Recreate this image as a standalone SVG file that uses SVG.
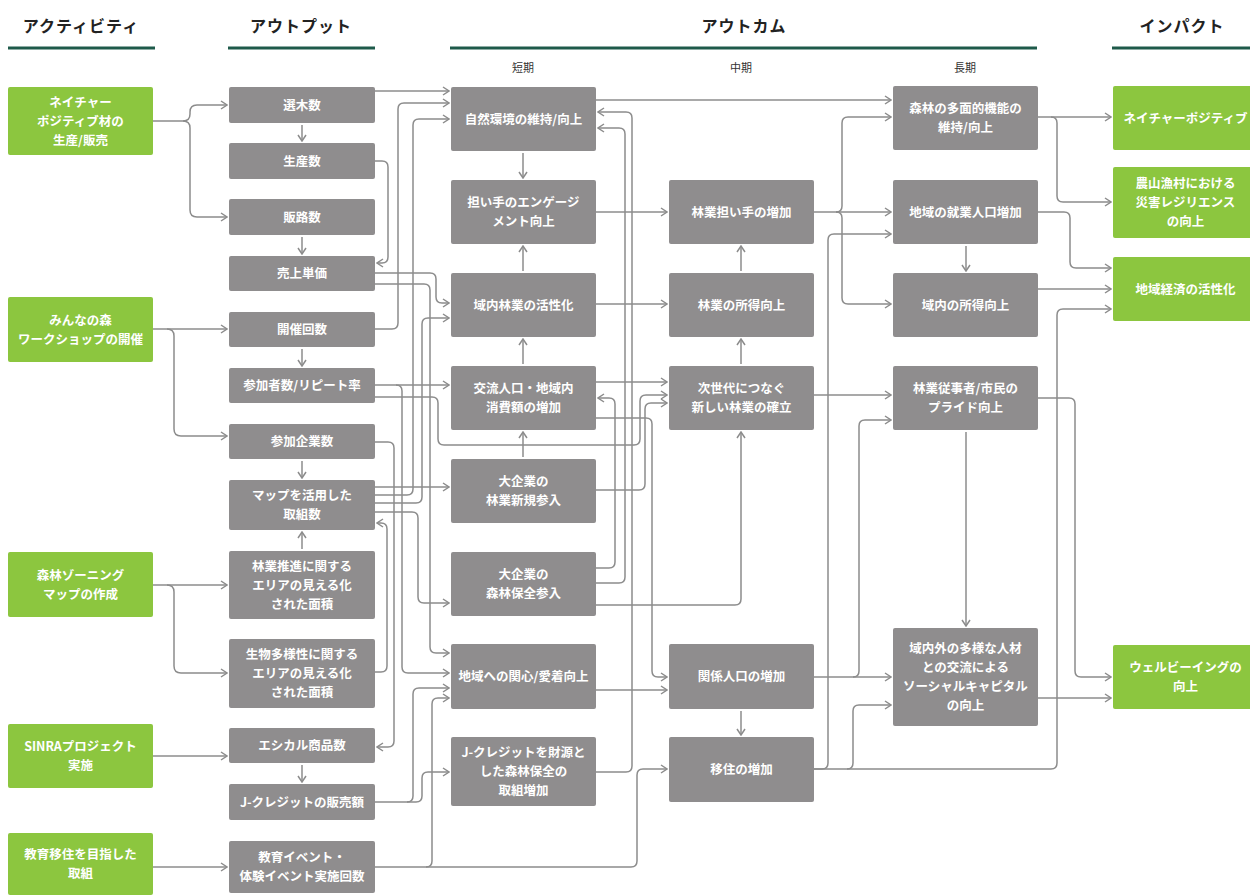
<svg xmlns="http://www.w3.org/2000/svg" width="1250" height="895" viewBox="0 0 1250 895">
<style>
.act{fill:#8cc63f}
.box{fill:#8f8d8e}
.t{font-family:"Noto Sans CJK JP","Noto Sans",sans-serif;font-size:12.5px;font-weight:700;fill:#fff;text-anchor:middle}
.h{font-family:"Noto Sans CJK JP","Noto Sans",sans-serif;font-size:16px;font-weight:700;fill:#222;text-anchor:middle;letter-spacing:1px}
.sh{font-family:"Noto Sans CJK JP","Noto Sans",sans-serif;font-size:11px;fill:#333;text-anchor:middle}
.ul{stroke:#1e5a4a;stroke-width:3}
.c{fill:none;stroke:#8c8c8c;stroke-width:1.5;marker-end:url(#ah)}
.n{fill:none;stroke:#8c8c8c;stroke-width:1.5}
</style>
<defs>
<marker id="ah" viewBox="0 0 10 10" refX="9" refY="5" markerWidth="10" markerHeight="10" markerUnits="userSpaceOnUse" orient="auto">
<path d="M3,1 L9,5 L3,9" fill="none" stroke="#8c8c8c" stroke-width="1.5"/>
</marker>
</defs>
<rect width="1250" height="895" fill="#fff"/>
<g id="header">
<text class="h" x="81" y="32">アクティビティ</text>
<line class="ul" x1="8" y1="48" x2="155" y2="48"/>
<text class="h" x="301" y="32">アウトプット</text>
<line class="ul" x1="228" y1="48" x2="375" y2="48"/>
<text class="h" x="744" y="32">アウトカム</text>
<line class="ul" x1="450" y1="48" x2="1037" y2="48"/>
<text class="h" x="1182" y="32">インパクト</text>
<line class="ul" x1="1112" y1="48" x2="1250" y2="48"/>
<text class="sh" x="523" y="72">短期</text>
<text class="sh" x="741" y="72">中期</text>
<text class="sh" x="965" y="72">長期</text>
</g>
<g id="connectors">
<path class="c" d="M153,121 H183 Q190,121 190,114 V112 Q190,105 197,105 H227"/>
<path class="c" d="M183,121 Q190,121 190,128 V210 Q190,217 197,217 H227"/>
<path class="c" d="M153,329 H227"/>
<path class="c" d="M167,329 Q174,329 174,336 V429 Q174,436 181,436 H227"/>
<path class="c" d="M153,585 H227"/>
<path class="c" d="M167,585 Q174,585 174,592 V666 Q174,673 181,673 H227"/>
<path class="c" d="M153,756 H227"/>
<path class="c" d="M153,867 H227"/>
<path class="c" d="M302,125 V141"/>
<path class="c" d="M302,237 V254"/>
<path class="c" d="M302,349 V366"/>
<path class="c" d="M302,461 V478"/>
<path class="c" d="M302,549 V532"/>
<path class="c" d="M302,765 V782"/>
<path class="c" d="M375,91 H449"/>
<path class="c" d="M375,161 H382 Q388,161 388,167 V257 Q388,263 382,263 H377"/>
<path class="c" d="M375,329 H392 Q398,329 398,323 V109 Q398,103 404,103 H449"/>
<path class="c" d="M375,495 H407 Q413,495 413,489 V125 Q413,119 419,119 H449"/>
<path class="c" d="M375,273 H430 Q436,273 436,279 V297 Q436,303 442,303 H449"/>
<path class="c" d="M375,284 H424 Q430,284 430,290 V647 Q430,653 436,653 H449"/>
<path class="c" d="M375,503 H416 Q422,503 422,497 V324 Q422,318 428,318 H449"/>
<path class="c" d="M375,385 H449"/>
<path class="c" d="M396,385 Q402,385 402,391 V667 Q402,673 408,673 H449"/>
<path class="c" d="M375,397 H432 Q438,397 438,403 V439 Q438,445 444,445 H634 Q640,445 640,439 V401 Q640,395 646,395 H667"/>
<path class="c" d="M375,442 H388 Q394,442 394,448 V741 Q394,747 388,747 H377"/>
<path class="c" d="M375,672 H381 Q387,672 387,666 V529 Q387,523 381,523 H377"/>
<path class="c" d="M375,487 H449"/>
<path class="c" d="M375,512 H412 Q418,512 418,518 V597 Q418,603 424,603 H449"/>
<path class="c" d="M375,802 H407 Q413,802 413,796 V694 Q413,688 419,688 H449"/>
<path class="c" d="M407,802 H416 Q422,802 422,796 V778 Q422,772 428,772 H449"/>
<path class="c" d="M375,867 H426 Q432,867 432,861 V704 Q432,698 438,698 H449"/>
<path class="c" d="M426,867 H631 Q637,867 637,861 V775 Q637,769 643,769 H667"/>
<path class="c" d="M523,153 V178"/>
<path class="c" d="M523,271 V246"/>
<path class="c" d="M523,364 V339"/>
<path class="c" d="M523,457 V432"/>
<path class="c" d="M596,100 H891"/>
<path class="c" d="M596,212 H667"/>
<path class="c" d="M596,304 H667"/>
<path class="c" d="M596,382 H667"/>
<path class="c" d="M596,418 H646 Q652,418 652,424 V671 Q652,677 658,677 H667"/>
<path class="c" d="M596,490 H639 Q645,490 645,484 V409 Q645,403 651,403 H667"/>
<path class="c" d="M596,568 H609 Q615,568 615,562 V404 Q615,398 609,398 H598"/>
<path class="c" d="M596,583 H619 Q625,583 625,577 V134 Q625,128 619,128 H598"/>
<path class="c" d="M596,605 H735 Q741,605 741,599 V432"/>
<path class="c" d="M596,772 H626 Q632,772 632,766 V118 Q632,112 626,112 H598"/>
<path class="c" d="M596,690 H667"/>
<path class="c" d="M741,271 V246"/>
<path class="c" d="M741,364 V339"/>
<path class="c" d="M741,711 V735"/>
<path class="c" d="M814,212 H891"/>
<path class="c" d="M836,212 Q842,212 842,206 V123 Q842,117 848,117 H891"/>
<path class="c" d="M836,212 Q842,212 842,218 V298 Q842,304 848,304 H891"/>
<path class="c" d="M814,395 H891"/>
<path class="c" d="M814,677 H891"/>
<path class="c" d="M853,677 Q859,677 859,671 V426 Q859,420 865,420 H891"/>
<path class="c" d="M814,769 H822 Q828,769 828,763 V240 Q828,234 834,234 H891"/>
<path class="c" d="M847,769 Q853,769 853,763 V711 Q853,705 859,705 H891"/>
<path class="c" d="M814,769 H1051 Q1057,769 1057,763 V315 Q1057,309 1063,309 H1111"/>
<path class="c" d="M966,246 V271"/>
<path class="c" d="M966,432 V626"/>
<path class="c" d="M1038,117 H1111"/>
<path class="c" d="M1051,117 Q1057,117 1057,123 V196 Q1057,202 1063,202 H1111"/>
<path class="c" d="M1038,212 H1064 Q1070,212 1070,218 V262 Q1070,268 1076,268 H1111"/>
<path class="c" d="M1038,289 H1111"/>
<path class="c" d="M1038,398 H1069 Q1075,398 1075,404 V671 Q1075,677 1081,677 H1111"/>
<path class="c" d="M1038,698 H1111"/>
</g>
<g id="A1"><rect class="act" x="8" y="87" width="145" height="68" rx="2"/><text class="t" x="80.5" y="106.5">ネイチャー</text><text class="t" x="80.5" y="125.5">ポジティブ材の</text><text class="t" x="80.5" y="144.5">生産/販売</text></g>
<g id="A2"><rect class="act" x="8" y="297" width="145" height="65" rx="2"/><text class="t" x="80.5" y="324.5">みんなの森</text><text class="t" x="80.5" y="343.5">ワークショップの開催</text></g>
<g id="A3"><rect class="act" x="8" y="552" width="145" height="65" rx="2"/><text class="t" x="80.5" y="579.5">森林ゾーニング</text><text class="t" x="80.5" y="598.5">マップの作成</text></g>
<g id="A4"><rect class="act" x="8" y="724" width="145" height="64" rx="2"/><text class="t" x="80.5" y="751">SINRAプロジェクト</text><text class="t" x="80.5" y="770">実施</text></g>
<g id="A5"><rect class="act" x="8" y="833" width="145" height="62" rx="2"/><text class="t" x="80.5" y="859">教育移住を目指した</text><text class="t" x="80.5" y="878">取組</text></g>
<g id="O1"><rect class="box" x="229" y="87" width="146" height="36" rx="2"/><text class="t" x="302" y="109.5">選木数</text></g>
<g id="O2"><rect class="box" x="229" y="143" width="146" height="36" rx="2"/><text class="t" x="302" y="165.5">生産数</text></g>
<g id="O3"><rect class="box" x="229" y="199" width="146" height="36" rx="2"/><text class="t" x="302" y="221.5">販路数</text></g>
<g id="O4"><rect class="box" x="229" y="256" width="146" height="35" rx="2"/><text class="t" x="302" y="278">売上単価</text></g>
<g id="O5"><rect class="box" x="229" y="312" width="146" height="35" rx="2"/><text class="t" x="302" y="334">開催回数</text></g>
<g id="O6"><rect class="box" x="229" y="368" width="146" height="35" rx="2"/><text class="t" x="302" y="390">参加者数/リピート率</text></g>
<g id="O7"><rect class="box" x="229" y="424" width="146" height="35" rx="2"/><text class="t" x="302" y="446">参加企業数</text></g>
<g id="O8"><rect class="box" x="229" y="480" width="146" height="50" rx="2"/><text class="t" x="302" y="500">マップを活用した</text><text class="t" x="302" y="519">取組数</text></g>
<g id="O9"><rect class="box" x="229" y="551" width="146" height="68" rx="2"/><text class="t" x="302" y="570.5">林業推進に関する</text><text class="t" x="302" y="589.5">エリアの見える化</text><text class="t" x="302" y="608.5">された面積</text></g>
<g id="O10"><rect class="box" x="229" y="639" width="146" height="69" rx="2"/><text class="t" x="302" y="659">生物多様性に関する</text><text class="t" x="302" y="678">エリアの見える化</text><text class="t" x="302" y="697">された面積</text></g>
<g id="O11"><rect class="box" x="229" y="728" width="146" height="35" rx="2"/><text class="t" x="302" y="750">エシカル商品数</text></g>
<g id="O12"><rect class="box" x="229" y="784" width="146" height="36" rx="2"/><text class="t" x="302" y="806.5">J-クレジットの販売額</text></g>
<g id="O13"><rect class="box" x="229" y="841" width="146" height="52" rx="2"/><text class="t" x="302" y="862">教育イベント・</text><text class="t" x="302" y="881">体験イベント実施回数</text></g>
<g id="S1"><rect class="box" x="451" y="87" width="145" height="64" rx="2"/><text class="t" x="523.5" y="123.5">自然環境の維持/向上</text></g>
<g id="S2"><rect class="box" x="451" y="180" width="145" height="64" rx="2"/><text class="t" x="523.5" y="207">担い手のエンゲージ</text><text class="t" x="523.5" y="226">メント向上</text></g>
<g id="S3"><rect class="box" x="451" y="273" width="145" height="64" rx="2"/><text class="t" x="523.5" y="309.5">域内林業の活性化</text></g>
<g id="S4"><rect class="box" x="451" y="366" width="145" height="64" rx="2"/><text class="t" x="523.5" y="393">交流人口・地域内</text><text class="t" x="523.5" y="412">消費額の増加</text></g>
<g id="S5"><rect class="box" x="451" y="459" width="145" height="64" rx="2"/><text class="t" x="523.5" y="486">大企業の</text><text class="t" x="523.5" y="505">林業新規参入</text></g>
<g id="S6"><rect class="box" x="451" y="552" width="145" height="64" rx="2"/><text class="t" x="523.5" y="579">大企業の</text><text class="t" x="523.5" y="598">森林保全参入</text></g>
<g id="S7"><rect class="box" x="451" y="644" width="145" height="65" rx="2"/><text class="t" x="523.5" y="681">地域への関心/愛着向上</text></g>
<g id="S8"><rect class="box" x="451" y="737" width="145" height="69" rx="2"/><text class="t" x="523.5" y="757">J-クレジットを財源と</text><text class="t" x="523.5" y="776">した森林保全の</text><text class="t" x="523.5" y="795">取組増加</text></g>
<g id="M1"><rect class="box" x="669" y="180" width="145" height="64" rx="2"/><text class="t" x="741.5" y="216.5">林業担い手の増加</text></g>
<g id="M2"><rect class="box" x="669" y="273" width="145" height="64" rx="2"/><text class="t" x="741.5" y="309.5">林業の所得向上</text></g>
<g id="M3"><rect class="box" x="669" y="366" width="145" height="64" rx="2"/><text class="t" x="741.5" y="393">次世代につなぐ</text><text class="t" x="741.5" y="412">新しい林業の確立</text></g>
<g id="M4"><rect class="box" x="669" y="644" width="145" height="65" rx="2"/><text class="t" x="741.5" y="681">関係人口の増加</text></g>
<g id="M5"><rect class="box" x="669" y="737" width="145" height="65" rx="2"/><text class="t" x="741.5" y="774">移住の増加</text></g>
<g id="L1"><rect class="box" x="893" y="86" width="145" height="64" rx="2"/><text class="t" x="965.5" y="113">森林の多面的機能の</text><text class="t" x="965.5" y="132">維持/向上</text></g>
<g id="L2"><rect class="box" x="893" y="180" width="145" height="64" rx="2"/><text class="t" x="965.5" y="216.5">地域の就業人口増加</text></g>
<g id="L3"><rect class="box" x="893" y="273" width="145" height="64" rx="2"/><text class="t" x="965.5" y="309.5">域内の所得向上</text></g>
<g id="L4"><rect class="box" x="893" y="366" width="145" height="64" rx="2"/><text class="t" x="965.5" y="393">林業従事者/市民の</text><text class="t" x="965.5" y="412">プライド向上</text></g>
<g id="L5"><rect class="box" x="893" y="628" width="145" height="98" rx="2"/><text class="t" x="965.5" y="653">域内外の多様な人材</text><text class="t" x="965.5" y="672">との交流による</text><text class="t" x="965.5" y="691">ソーシャルキャピタル</text><text class="t" x="965.5" y="710">の向上</text></g>
<g id="I1"><rect class="act" x="1113" y="86" width="145" height="64" rx="2"/><text class="t" x="1185.5" y="122.5">ネイチャーポジティブ</text></g>
<g id="I2"><rect class="act" x="1113" y="167" width="145" height="71" rx="2"/><text class="t" x="1185.5" y="188">農山漁村における</text><text class="t" x="1185.5" y="207">災害レジリエンス</text><text class="t" x="1185.5" y="226">の向上</text></g>
<g id="I3"><rect class="act" x="1113" y="257" width="145" height="64" rx="2"/><text class="t" x="1185.5" y="293.5">地域経済の活性化</text></g>
<g id="I4"><rect class="act" x="1113" y="645" width="145" height="64" rx="2"/><text class="t" x="1185.5" y="672">ウェルビーイングの</text><text class="t" x="1185.5" y="691">向上</text></g>
</svg>
